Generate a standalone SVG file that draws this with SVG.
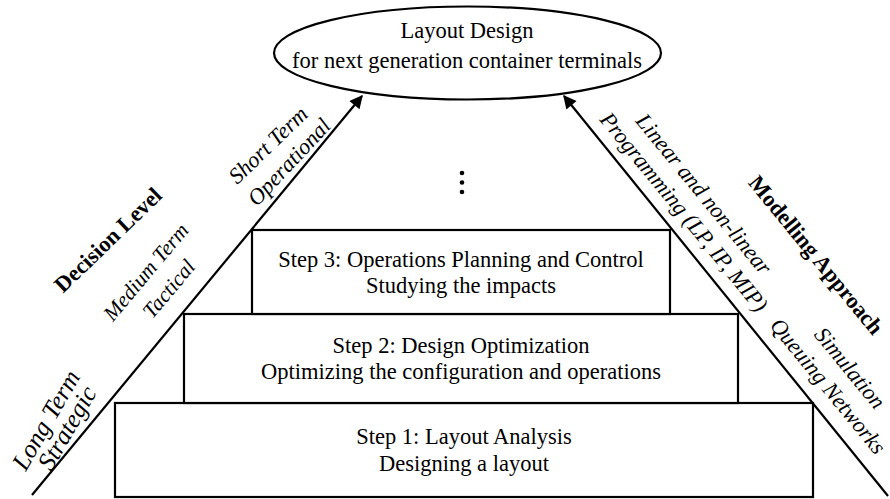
<svg xmlns="http://www.w3.org/2000/svg" width="890" height="499" viewBox="0 0 890 499">
<style>
text{font-family:"Liberation Serif","Times New Roman",serif;font-size:22.5px;fill:#000}
.c{text-anchor:middle}
.r{text-anchor:middle;dominant-baseline:central;font-style:italic}
.b{text-anchor:middle;dominant-baseline:central;font-weight:bold}
.box{fill:#fff;stroke:#000;stroke-width:2.2}
.ln{stroke:#000;stroke-width:2.2;fill:none}
</style>
<defs>
<marker id="ah" viewBox="0 0 10 10" refX="9" refY="5" markerWidth="7" markerHeight="6" markerUnits="strokeWidth" orient="auto">
<path d="M0,0 L10,5 L0,10 z" fill="#000"/>
</marker>
</defs>
<rect width="890" height="499" fill="#fff"/>
<g id="connectors">
<line class="ln" x1="32" y1="495" x2="362" y2="96" marker-end="url(#ah)"/>
<line class="ln" x1="888" y1="496" x2="564" y2="96" marker-end="url(#ah)"/>
</g>
<g id="goal">
<ellipse cx="467.5" cy="53" rx="193.5" ry="46.5" fill="#fff" stroke="#000" stroke-width="2.2"/>
<text class="c" x="467" y="38">Layout Design</text>
<text class="c" x="467" y="68">for next generation container terminals</text>
</g>
<g id="step1">
<rect class="box" x="115" y="403" width="698" height="94"/>
<text class="c" x="464" y="444">Step 1: Layout Analysis</text>
<text class="c" x="464" y="471">Designing a layout</text>
</g>
<g id="step2">
<rect class="box" x="184" y="314" width="554" height="89"/>
<text class="c" x="461" y="353">Step 2: Design Optimization</text>
<text class="c" x="461" y="379">Optimizing the configuration and operations</text>
</g>
<g id="step3">
<rect class="box" x="252" y="230" width="418" height="84"/>
<text class="c" x="461" y="267">Step 3: Operations Planning and Control</text>
<text class="c" x="461" y="293">Studying the impacts</text>
</g>
<g id="dots">
<circle cx="462" cy="173" r="2.3"/>
<circle cx="462" cy="182.5" r="2.3"/>
<circle cx="462" cy="192" r="2.3"/>
</g>
<g id="decision-level">
<text class="b" transform="translate(108,240) rotate(-44)">Decision Level</text>
<text class="r" style="font-size:25.5px" transform="translate(46,420) rotate(-60)">Long Term</text>
<text class="r" style="font-size:25.5px" transform="translate(67,428) rotate(-60)">Strategic</text>
<text class="r" style="font-size:21.5px" transform="translate(146,272) rotate(-50)">Medium Term</text>
<text class="r" style="font-size:21.5px" transform="translate(169,289) rotate(-50)">Tactical</text>
<text class="r" transform="translate(268,145) rotate(-44)">Short Term</text>
<text class="r" transform="translate(289,162) rotate(-47)">Operational</text>
</g>
<g id="modelling-approach">
<text class="b" transform="translate(816,255) rotate(50.7)">Modelling Approach</text>
<text class="r" transform="translate(704,194) rotate(50.7)">Linear and non-linear</text>
<text class="r" transform="translate(684,212) rotate(50.7)">Programming (LP, IP, MIP)</text>
<text class="r" transform="translate(850,368) rotate(50.7)">Simulation</text>
<text class="r" transform="translate(828,386) rotate(50.7)">Queuing Networks</text>
</g>
</svg>
